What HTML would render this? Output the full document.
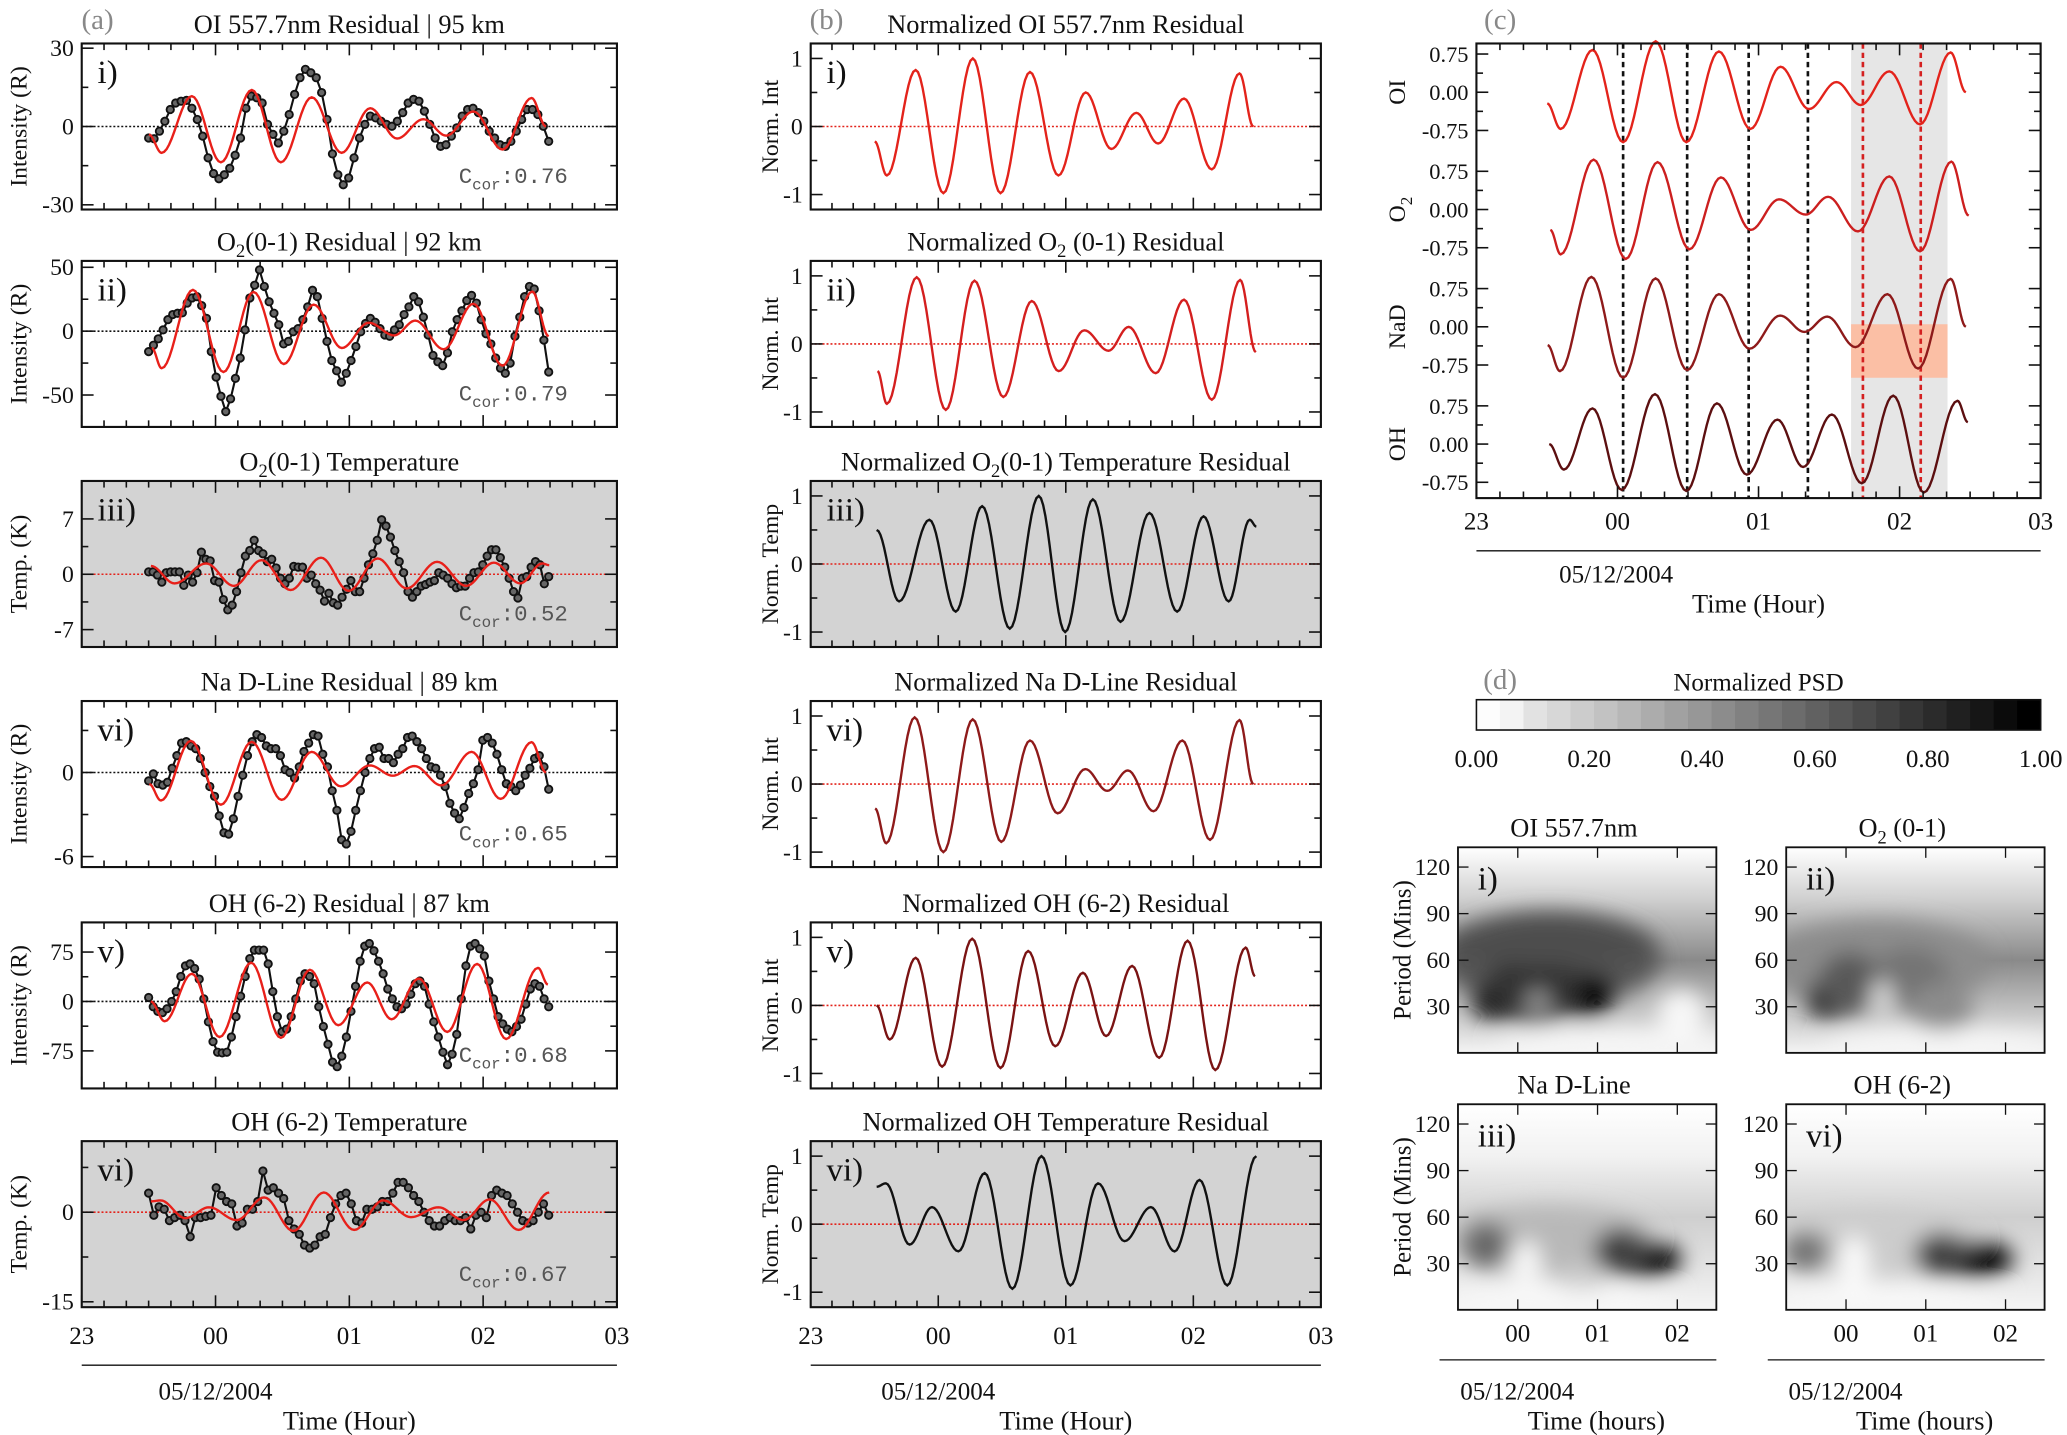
<!DOCTYPE html>
<html><head><meta charset="utf-8">
<style>
html,body{margin:0;padding:0;background:#fff;}
svg{display:block;}
text{font-family:"Liberation Serif",serif;fill:#111;}
.mono{font-family:"Liberation Mono",monospace;fill:#555;}
</style></head>
<body>
<svg id="fig" xmlns="http://www.w3.org/2000/svg" width="2067" height="1435" viewBox="0 0 1568 1089" preserveAspectRatio="none">
<defs>
<filter id="blur8" x="-50%" y="-50%" width="200%" height="200%"><feGaussianBlur stdDeviation="8"/></filter>
</defs>
</svg>
<script>
// ---------- data (hours after 23:00) ----------
const OI_T=[0.502,0.597,0.823,1.040,1.271,1.488,1.719,1.942,2.156,2.357,2.553,2.724,2.927,3.145,3.362,3.47];
const OI_V=[-0.22,-0.72,0.83,-0.98,1.0,-0.98,0.8,-0.72,0.5,-0.33,0.2,-0.25,0.41,-0.63,0.78,0];
const O2_T=[0.524,0.597,0.831,1.059,1.284,1.51,1.733,1.944,2.145,2.335,2.493,2.705,2.927,3.145,3.367,3.49];
const O2_V=[-0.4,-0.88,0.98,-0.97,0.93,-0.78,0.63,-0.4,0.2,-0.1,0.25,-0.43,0.65,-0.82,0.94,-0.12];
const NA_T=[0.505,0.592,0.815,1.04,1.27,1.494,1.719,1.936,2.153,2.325,2.487,2.688,2.914,3.131,3.362,3.47];
const NA_V=[-0.36,-0.87,0.98,-1.0,0.95,-0.85,0.64,-0.43,0.22,-0.1,0.2,-0.4,0.64,-0.82,0.94,0];
const OH_T=[0.516,0.62,0.823,1.03,1.266,1.488,1.705,1.917,2.134,2.316,2.52,2.732,2.955,3.172,3.41,3.484];
const OH_V=[0,-0.5,0.7,-0.9,0.98,-0.92,0.8,-0.6,0.48,-0.45,0.58,-0.77,0.95,-0.95,0.85,0.43];
const T1_T=[0.517,0.693,0.930,1.137,1.344,1.561,1.788,1.995,2.212,2.429,2.656,2.873,3.080,3.277,3.442,3.494];
const T1_V=[0.5,-0.55,0.65,-0.7,0.85,-0.95,1.0,-1.0,0.95,-0.85,0.75,-0.7,0.7,-0.55,0.65,0.55];
const T2_T=[0.517,0.589,0.775,0.951,1.158,1.364,1.581,1.809,2.036,2.253,2.460,2.667,2.853,3.049,3.266,3.494];
const T2_V=[0.55,0.6,-0.3,0.25,-0.4,0.75,-0.95,1.0,-0.9,0.6,-0.25,0.25,-0.4,0.65,-0.9,1.0];
const FIT_SCALE=[14,33,2.1,2.3,60,3.3];
const BLACK_START=0.5, BLACK_END=3.49;
const A1=[-4.4,-4.7,-1.8,2,6.5,9,9.7,10,7,2.7,-3.7,-12,-18,-20,-18.5,-16,-11,-4.4,7,11.7,11,9,0.8,-3,-6.3,-1.8,4.6,12.3,18.7,21.9,20.6,18.7,13,2.7,-10.5,-18.5,-22.3,-19.7,-12,-4.4,0.8,4,3.3,2,0.8,0.1,2,5.3,9,10.4,9.7,5.9,0.8,-4.4,-7.6,-7,-3.7,-0.5,4,6.5,7,5.3,2,-1.8,-4.4,-7,-7.6,-5.7,-1.8,2.7,6.5,6.5,4.6,0.1,-5.7];
const A2=[-16,-11,-6,1,9,13,14,14.4,22,26,27,20,10,-16,-36,-51,-63,-53,-37,-21,1,26,36,48,35,23,14,5,-10,-8,-0.5,2,9,19,32,27,10,-8,-23,-31,-40,-33,-23,-12,-0.5,6,10,7,2,-3,-4,1,5,13,19,27,23,11,-3,-19,-24,-27,-17,-0.5,9,16,24,28,22,9,-2,-10,-21,-29,-33,-25,-4,11,27,35,33,16,-7,-32];
const A3=[0.3,0.3,-0.1,-1,0.2,0.3,0.3,0.3,-1.4,-0.1,-1,0.2,2.8,1.9,1.7,-0.8,-1,-3.2,-4.5,-3.9,-2.2,0.2,2.3,3,4.3,3,2.6,1.6,1.9,0.8,-0.5,-1.2,-0.5,1,0.9,0.9,-0.5,-0.1,-1.2,-2,-3.4,-2.4,-3.6,-3.9,-2.9,-1.9,-0.8,-2.2,-2.2,-0.5,1.2,2.6,4.3,6.9,6.1,4.7,3,1.6,0.2,-2.2,-2.9,-2.2,-1.5,-1.3,-1,-0.8,0.2,-0.1,-0.5,-1.2,-1.7,-1.5,-1.5,-0.5,0.2,0.3,1.2,2.3,3.1,3.1,2.1,0.9,-0.5,-2.2,-3,-0.5,-0.3,0.9,1.6,1.2,-1.2,-0.3];
const A4=[-0.6,-0.1,-0.8,-0.9,-0.7,0.3,1.2,2.1,2.2,1.9,1.7,1,0,-1,-1.7,-3.1,-4.3,-4.4,-3.3,-1.7,-0.2,1.2,2.2,2.7,2.5,1.9,1.7,1.7,1.2,0.2,0,-0.4,0.4,1.5,2.1,2.7,2.6,1.3,0.4,-1.3,-2.7,-4.8,-5.1,-4.2,-2.7,-1.3,0,1,1.7,1.8,1,1,0.7,1.3,1.7,2.5,2.6,2.2,1.7,1,0.4,0.3,-0.2,-1,-2.2,-2.9,-3.3,-2.5,-1.5,-0.8,0.2,2.3,2.5,2.1,1.3,0.2,-0.8,-1,-1.3,-0.9,-0.2,0.3,1,1.2,0.4,-1.2];
const A5=[6,-8,-15,-17,-11,0,15,38,54,57,50,34,4,-31,-61,-77,-78,-77,-54,-23,8,38,65,78,78,78,57,15,-23,-46,-42,-23,4,31,42,38,27,-8,-38,-65,-92,-99,-83,-54,-15,23,61,84,88,77,61,42,19,4,-8,-11,-4,11,27,31,23,-4,-31,-54,-77,-96,-80,-50,4,54,84,88,80,69,31,4,-23,-34,-42,-46,-38,-27,-4,19,27,23,4,-8];
const A6=[3.2,-0.5,0.9,0.5,-1.4,-0.9,-0.5,-1.4,-4.1,-0.9,-0.9,-0.7,-0.5,4.1,2.8,1.8,1.4,-2.3,-1.8,0.5,0.5,1.8,6.9,3.7,4.1,3.2,2.3,-1.4,-2.8,-3.7,-5.5,-6,-5.5,-4.1,-3.7,-0.9,1.4,2.8,3.2,1.4,-1.4,-1.8,0.5,0.5,0.9,1.8,1.8,3.2,5,5,4.1,2.8,1.8,0,-1.4,-2.3,-2.3,-1.4,-0.9,-1.4,-1.4,-0.9,-2.8,-0.5,0,-0.9,2.8,3.7,3.2,2.8,1.4,0,-1.4,-1.8,-1.4,0,1.4,-0.5];
const CCOR=["0.76","0.79","0.52","0.65","0.68","0.67"];
const HOUR_LABELS=["23","00","01","02","03"];
const DASH_BLACK=[1.04,1.494,1.93,2.35];
const DASH_RED=[2.74,3.15];
const PSD_LABELS=["0.00","0.20","0.40","0.60","0.80","1.00"];
const PERIOD_TICKS=[120,90,60,30];
// PSD blobs: [hour(after 23), period(min), rx(h), ry(min), gray]
const PSD1=[[1.4,62,1.4,30,0.33],[0.75,34,0.32,13,0.02],[1.85,38,0.38,14,0.02],[1.2,42,0.6,22,0.2],[1.4,72,1.3,16,0.3],[1.25,33,0.15,8,0.6],[3.05,25,0.3,16,0.97],[2.2,6,1.5,8,0.97]];
const PSD2=[[1.4,58,1.4,28,0.55],[0.8,35,0.3,13,0.05],[1.05,45,0.4,20,0.35],[1.8,48,0.5,20,0.45],[1.45,35,0.15,12,0.85],[2.2,30,0.4,15,0.55],[2.2,6,1.5,8,0.97]];
const PSD3=[[1.4,45,1.3,22,0.72],[0.6,42,0.3,15,0.4],[2.6,33,0.45,12,0.02],[2.3,38,0.35,15,0.25],[1.1,30,0.2,15,0.97],[1.8,20,0.3,10,0.8],[1.5,8,1.5,6,0.98]];
const PSD4=[[1.4,42,1.3,20,0.8],[0.5,38,0.3,13,0.45],[2.6,33,0.5,12,0.02],[2.2,36,0.35,14,0.25],[1.1,30,0.2,18,0.98],[1.5,8,1.5,6,0.98]];

// ---------- helpers ----------
const NS="http://www.w3.org/2000/svg";
const svg=document.getElementById('fig');
function mk(tag,attrs,parent){const e=document.createElementNS(NS,tag);for(const k in attrs)e.setAttribute(k,attrs[k]);(parent||svg).appendChild(e);return e;}
function txt(s,x,y,size,anchor,parent,extra){const e=mk('text',Object.assign({x:x,y:y,'font-size':size,'text-anchor':anchor||'middle'},extra||{}),parent);e.textContent=s;return e;}
function smooth(T,V,n){const pts=[];for(let i=0;i<T.length-1;i++){for(let k=0;k<n;k++){const s=k/n;const w=(1-Math.cos(Math.PI*s))/2;pts.push([T[i]+(T[i+1]-T[i])*s,V[i]+(V[i+1]-V[i])*w]);}}pts.push([T[T.length-1],V[V.length-1]]);return pts;}

const ROW_TOP=[33,198,365,532,700,866];const ROW_H=126;
const COLS={a:[62,468],b:[615,1002]};
const A_RANGE=[[-31.8,31.8],[-75,55],[-9.2,11.8],[-6.75,5.1],[-132,120],[-15.9,11.9]];
const A_TICKS=[[30,0,-30],[50,0,-50],[7,0,-7],[0,-6],[75,0,-75],[0,-15]];
const A_MINOR=[[15,-15],[25,-25],[3.5,-3.5],[3,-3],[37.5,-37.5],[7.5,-7.5]];
const ROMAN=["i)","ii)","iii)","vi)","v)","vi)"];
const A_TITLES=[["OI 557.7nm Residual  |  95 km"],["O","2","(0-1) Residual  |  92 km"],["O","2","(0-1) Temperature"],["Na D-Line Residual  |  89 km"],["OH (6-2) Residual  |  87 km"],["OH (6-2) Temperature"]];
const B_TITLES=[["Normalized OI 557.7nm Residual"],["Normalized O","2"," (0-1) Residual"],["Normalized O","2","(0-1) Temperature Residual"],["Normalized Na D-Line Residual"],["Normalized OH (6-2) Residual"],["Normalized OH Temperature Residual"]];
const A_YT=["Intensity (R)","Intensity (R)","Temp. (K)","Intensity (R)","Intensity (R)","Temp. (K)"];
const B_YT=["Norm. Int","Norm. Int","Norm. Temp","Norm. Int","Norm. Int","Norm. Temp"];
const A_BLACK=[A1,A2,A3,A4,A5,A6];
const NORM_T=[OI_T,O2_T,T1_T,NA_T,OH_T,T2_T];
const NORM_V=[OI_V,O2_V,T1_V,NA_V,OH_V,T2_V];
const B_COLOR=["#e3231b","#d41f1f","#111","#8e1a1a","#7a1313","#111"];
const GRAY_ROW=[false,false,true,false,false,true];

function title(parts,x,y,g){const e=txt('',x,y,20,'middle',g,{'xml:space':'preserve'});e.textContent='';parts.forEach((p,i)=>{const t=document.createElementNS(NS,'tspan');if(i===1){t.setAttribute('font-size','14');t.setAttribute('dy','5');}else if(i===2){t.setAttribute('dy','-5');}t.textContent=p;e.appendChild(t);});return e;}

function timeTicks(g,x0,x1,top,bot,tmax,step){for(let t=0;t<=tmax+1e-6;t+=step){const x=x0+t/tmax*(x1-x0);const major=Math.abs(t-Math.round(t))<1e-6;const L=major?9:5;mk('line',{x1:x,x2:x,y1:bot,y2:bot-L,stroke:'#111','stroke-width':1.2},g);mk('line',{x1:x,x2:x,y1:top,y2:top+L,stroke:'#111','stroke-width':1.2},g);}}

// ---------- columns a & b ----------
for(let r=0;r<6;r++){
 ['a','b'].forEach(col=>{
  const [x0,x1]=COLS[col];const top=ROW_TOP[r],bot=top+ROW_H;
  const lo=col==='a'?A_RANGE[r][0]:-1.22, hi=col==='a'?A_RANGE[r][1]:1.22;
  const X=t=>x0+t/4*(x1-x0);const Y=v=>top+(hi-v)/(hi-lo)*ROW_H;
  const g=mk('g',{});
  
  
  if(GRAY_ROW[r]){const bg=mk('rect',{x:x0,y:top,width:x1-x0,height:ROW_H,fill:'#d3d3d3'},g);
   
   }
  const redZero=(col==='b')||GRAY_ROW[r];
  const z=mk('line',{x1:x0,x2:x1,y1:Y(0),y2:Y(0),stroke:redZero?'#e3231b':'#111','stroke-width':1.2,'stroke-dasharray':'1.5 1.5'},g);
  
  
  timeTicks(g,x0,x1,top,bot,4,1/6);
  const majors=col==='a'?A_TICKS[r]:[1,0,-1];const minors=col==='a'?A_MINOR[r]:[0.5,-0.5];
  majors.forEach(v=>{mk('line',{x1:x0,x2:x0+9,y1:Y(v),y2:Y(v),stroke:'#111','stroke-width':1.2},g);mk('line',{x1:x1,x2:x1-9,y1:Y(v),y2:Y(v),stroke:'#111','stroke-width':1.2},g);
   const t=txt(String(v),x0-6,Y(v)+6,18,'end',g);
   
   });
  minors.forEach(v=>{mk('line',{x1:x0,x2:x0+5,y1:Y(v),y2:Y(v),stroke:'#111','stroke-width':1.2},g);mk('line',{x1:x1,x2:x1-5,y1:Y(v),y2:Y(v),stroke:'#111','stroke-width':1.2},g);});
  const NT=NORM_T[r],NV=NORM_V[r];
  if(col==='a'){
   const fit=smooth(NT,NV,12).map(p=>[X(p[0]),Y(p[1]*FIT_SCALE[r])]);
   const data=A_BLACK[r];const n=data.length;
   const pts=data.map((v,i)=>[X(BLACK_START+i*(BLACK_END-BLACK_START)/(n-1)),Y(v)]);
   const bl=mk('polyline',{points:pts.map(p=>p.join(',')).join(' '),fill:'none',stroke:'#111','stroke-width':1.6},g);
   
   
   pts.forEach(p=>{const c=mk('circle',{cx:p[0],cy:p[1],r:2.8,fill:'#666',stroke:'#111','stroke-width':1.4},g);
    
    });
   const fl=mk('polyline',{points:fit.map(p=>p.join(',')).join(' '),fill:'none',stroke:'#e8201a','stroke-width':1.8},g);
   
   
   const cc=mk('text',{x:x1-120,y:bot-20,'font-size':17,class:'mono','text-anchor':'start'},g);
   
   
   const s1=document.createElementNS(NS,'tspan');s1.textContent='C';cc.appendChild(s1);
   const s2=document.createElementNS(NS,'tspan');s2.setAttribute('font-size','12');s2.setAttribute('dy','5');s2.textContent='cor';cc.appendChild(s2);
   const s3=document.createElementNS(NS,'tspan');s3.setAttribute('dy','-5');s3.textContent=':'+CCOR[r];cc.appendChild(s3);
  } else {
   const ln=smooth(NT,NV,12).map(p=>[X(p[0]),Y(p[1])]);
   const l=mk('polyline',{points:ln.map(p=>p.join(',')).join(' '),fill:'none',stroke:B_COLOR[r],'stroke-width':1.8},g);
   
   
  }
  const fr=mk('rect',{x:x0,y:top,width:x1-x0,height:ROW_H,fill:'none',stroke:'#111','stroke-width':1.6},g);
  
  
  const pl=txt(ROMAN[r],x0+12,top+30,25,'start',g);
  
  
  const tt=title(col==='a'?A_TITLES[r]:B_TITLES[r],(x0+x1)/2,top-8,g);
  
  
  const yx=col==='a'?14:584;
  const yt=txt(col==='a'?A_YT[r]:B_YT[r],0,0,18,'middle',g,{transform:'translate('+(yx+6)+','+(top+ROW_H/2)+') rotate(-90)'});
  
  
 });
}
['a','b'].forEach(col=>{const [x0,x1]=COLS[col];
 HOUR_LABELS.forEach((h,i)=>{const t=txt(h,x0+i*(x1-x0)/4,1020,19,'middle');
  
  });
 const rl=mk('line',{x1:x0,x2:x1,y1:1036,y2:1036,stroke:'#111','stroke-width':1});
 
 
 const d=txt('05/12/2004',x0+(x1-x0)/4,1062,19,'middle');
 
 
 const xt=txt('Time (Hour)',x0+(x1-x0)*0.5,1085,20,'middle');
 
 
 const lab=txt(col==='a'?'(a)':'(b)',x0+12,22,22,'middle',null,{style:'fill:#888'});
 
 
});

// ---------- column c ----------
(function(){
 const x0=1120,x1=1548,top=33,bot=378;const X=t=>x0+t/4*(x1-x0);
 const U=29/0.75;const CEN=[70,159,248,337];
 const g=mk('g',{});
 
 
 const sh=mk('rect',{x:X(2.656),y:top,width:X(3.34)-X(2.656),height:bot-top,fill:'#e6e6e6'},g);
 
 
 const sal=mk('rect',{x:X(2.656),y:CEN[2]-0.05*U,width:X(3.34)-X(2.656),height:1.05*U,fill:'#fbbfa5'},g);
 
 
 DASH_BLACK.forEach(t=>{const l=mk('line',{x1:X(t),x2:X(t),y1:top,y2:bot,stroke:'#111','stroke-width':2,'stroke-dasharray':'4 3'},g);
  
  });
 DASH_RED.forEach(t=>{const l=mk('line',{x1:X(t),x2:X(t),y1:top,y2:bot,stroke:'#d42020','stroke-width':2,'stroke-dasharray':'4 3'},g);
  
  });
 const ST=[OI_T,O2_T,NA_T,OH_T],SV=[OI_V,O2_V,NA_V,OH_V],SC=['#e3231b','#cc1f1f','#8e1a1a','#5c0f10'],LB=['OI','O2','NaD','OH'];
 for(let k=0;k<4;k++){
  const pts=smooth(ST[k],SV[k],12).map(p=>[X(p[0]),CEN[k]-p[1]*U]);
  const l=mk('polyline',{points:pts.map(p=>p.join(',')).join(' '),fill:'none',stroke:SC[k],'stroke-width':1.8},g);
  
  
  [0.75,0,-0.75].forEach(v=>{const y=CEN[k]-v*U;mk('line',{x1:x0,x2:x0+9,y1:y,y2:y,stroke:'#111','stroke-width':1.2},g);mk('line',{x1:x1,x2:x1-9,y1:y,y2:y,stroke:'#111','stroke-width':1.2},g);
   const t=txt(v===0?'0.00':(v>0?'0.75':'-0.75'),x0-6,y+6,17,'end',g);
   
   });
  [0.375,-0.375].forEach(v=>{const y=CEN[k]-v*U;mk('line',{x1:x0,x2:x0+5,y1:y,y2:y,stroke:'#111','stroke-width':1.2},g);mk('line',{x1:x1,x2:x1-5,y1:y,y2:y,stroke:'#111','stroke-width':1.2},g);});
  const yl=mk('text',{'font-size':18,'text-anchor':'middle',transform:'translate(1066,'+CEN[k]+') rotate(-90)'},g);
  
  
  if(k===1){const a=document.createElementNS(NS,'tspan');a.textContent='O';yl.appendChild(a);const b=document.createElementNS(NS,'tspan');b.setAttribute('font-size','13');b.setAttribute('dy','5');b.textContent='2';yl.appendChild(b);}else yl.textContent=LB[k];
 }
 timeTicks(g,x0,x1,top,bot,4,1/6);
 const fr=mk('rect',{x:x0,y:top,width:x1-x0,height:bot-top,fill:'none',stroke:'#111','stroke-width':1.6},g);
 
 
 HOUR_LABELS.forEach((h,i)=>{const t=txt(h,x0+i*(x1-x0)/4,402,19,'middle');
  
  });
 const rl=mk('line',{x1:x0,x2:x1,y1:418,y2:418,stroke:'#111','stroke-width':1});
 
 
 const d=txt('05/12/2004',1226,442,19,'middle');
 
 
 const xt=txt('Time (Hour)',1334,465,20,'middle');
 
 
 const lab=txt('(c)',1138,22,22,'middle',null,{style:'fill:#888'});
 
 
})();

// ---------- colorbar (d) ----------
(function(){
 const x0=1120,x1=1548;
 const g=mk('g',{});
 
 
 const steps=24;
 for(let i=0;i<steps;i++){const v=i/(steps-1);const c=Math.round(255*(1-v)*0.97+(v<0.05?6:0));mk('rect',{x:x0+i*(x1-x0)/steps,y:531,width:(x1-x0)/steps+0.5,height:23,fill:'rgb('+c+','+c+','+c+')'},g);}
 mk('rect',{x:x0,y:531,width:x1-x0,height:23,fill:'none',stroke:'#111','stroke-width':1.2},g);
 PSD_LABELS.forEach((s,i)=>{const t=txt(s,x0+i*(x1-x0)/5,582,19,'middle',g);
  
  });
 const tt=txt('Normalized PSD',1334,524,19,'middle',g);
 
 
 const lab=txt('(d)',1138,523,22,'middle',null,{style:'fill:#888'});
 
 
})();

// ---------- PSD panels ----------
const PSD_PANELS=[{x0:1106,y0:643,blobs:PSD1,title:['OI 557.7nm'],lab:'i)',yt:true,bottom:false},{x0:1355,y0:643,blobs:PSD2,title:['O','2',' (0-1)'],lab:'ii)',yt:false,bottom:false},{x0:1106,y0:838,blobs:PSD3,title:['Na D-Line'],lab:'iii)',yt:true,bottom:true},{x0:1355,y0:838,blobs:PSD4,title:['OH (6-2)'],lab:'vi)',yt:false,bottom:true}];
PSD_PANELS.forEach((P,idx)=>{
 const W=196,H=156;const X=t=>P.x0+(t-0.25)*60.5;const Y=p=>P.y0+15+(120-p)*1.178;
 const g=mk('g',{});
 
 
 const cid='clip'+idx;const cp=mk('clipPath',{id:cid});mk('rect',{x:P.x0,y:P.y0,width:W,height:H},cp);
 const inner=mk('g',{'clip-path':'url(#'+cid+')'},g);
 const gid='bgg'+idx;const lg=mk('linearGradient',{id:gid,x1:0,x2:0,y1:0,y2:1},inner);
 mk('stop',{offset:0,'stop-color':'#fff'},lg);mk('stop',{offset:0.25,'stop-color':idx<2?'#d0d0d0':'#f2f2f2'},lg);mk('stop',{offset:0.55,'stop-color':idx<2?'#8a8a8a':'#cfcfcf'},lg);mk('stop',{offset:1,'stop-color':'#f4f4f4'},lg);
 mk('rect',{x:P.x0,y:P.y0,width:W,height:H,fill:'url(#'+gid+')'},inner);
 const bg=mk('g',{filter:'url(#blur8)'},inner);
 P.blobs.forEach(b=>{const c=Math.round(255*b[4]);const e=mk('ellipse',{cx:X(b[0]),cy:Y(b[1]),rx:b[2]*60.5,ry:b[3]*1.178,fill:'rgb('+c+','+c+','+c+')'},bg);
  
  });
 mk('rect',{x:P.x0,y:P.y0,width:W,height:H,fill:'none',stroke:'#111','stroke-width':1.4},g);
 [0,1,2].forEach(h=>{const x=X(h+1);mk('line',{x1:x,x2:x,y1:P.y0+H,y2:P.y0+H-8,stroke:'#111'},g);mk('line',{x1:x,x2:x,y1:P.y0,y2:P.y0+8,stroke:'#111'},g);
  if(P.bottom){const t=txt(HOUR_LABELS[h+1],x,P.y0+H+24,19,'middle',g);
  
  }});
 PERIOD_TICKS.forEach(p=>{const y=Y(p);mk('line',{x1:P.x0,x2:P.x0+8,y1:y,y2:y,stroke:'#111'},g);mk('line',{x1:P.x0+W,x2:P.x0+W-8,y1:y,y2:y,stroke:'#111'},g);
  const t=txt(String(p),P.x0-6,y+6,18,'end',g);
  
  });
 const pl=txt(P.lab,P.x0+15,P.y0+32,25,'start',g);
 
 
 const tt=title(P.title,P.x0+W/2-10,P.y0-8,g);
 
 
 if(P.yt){const yt=txt('Period (Mins)',0,0,19,'middle',g,{transform:'translate(1070,'+(P.y0+H/2)+') rotate(-90)'});
  
  }
 if(P.bottom){
 const rl=mk('line',{x1:P.x0-14,x2:P.x0+W,y1:P.y0+H+38,y2:P.y0+H+38,stroke:'#111'},g);
 
 
 const d=txt('05/12/2004',P.x0+45,1062,19,'middle',g);
 
 
 const xt=txt('Time (hours)',P.x0+105,1085,20,'middle',g);
 
 
 }
});
</script>
</body></html>
